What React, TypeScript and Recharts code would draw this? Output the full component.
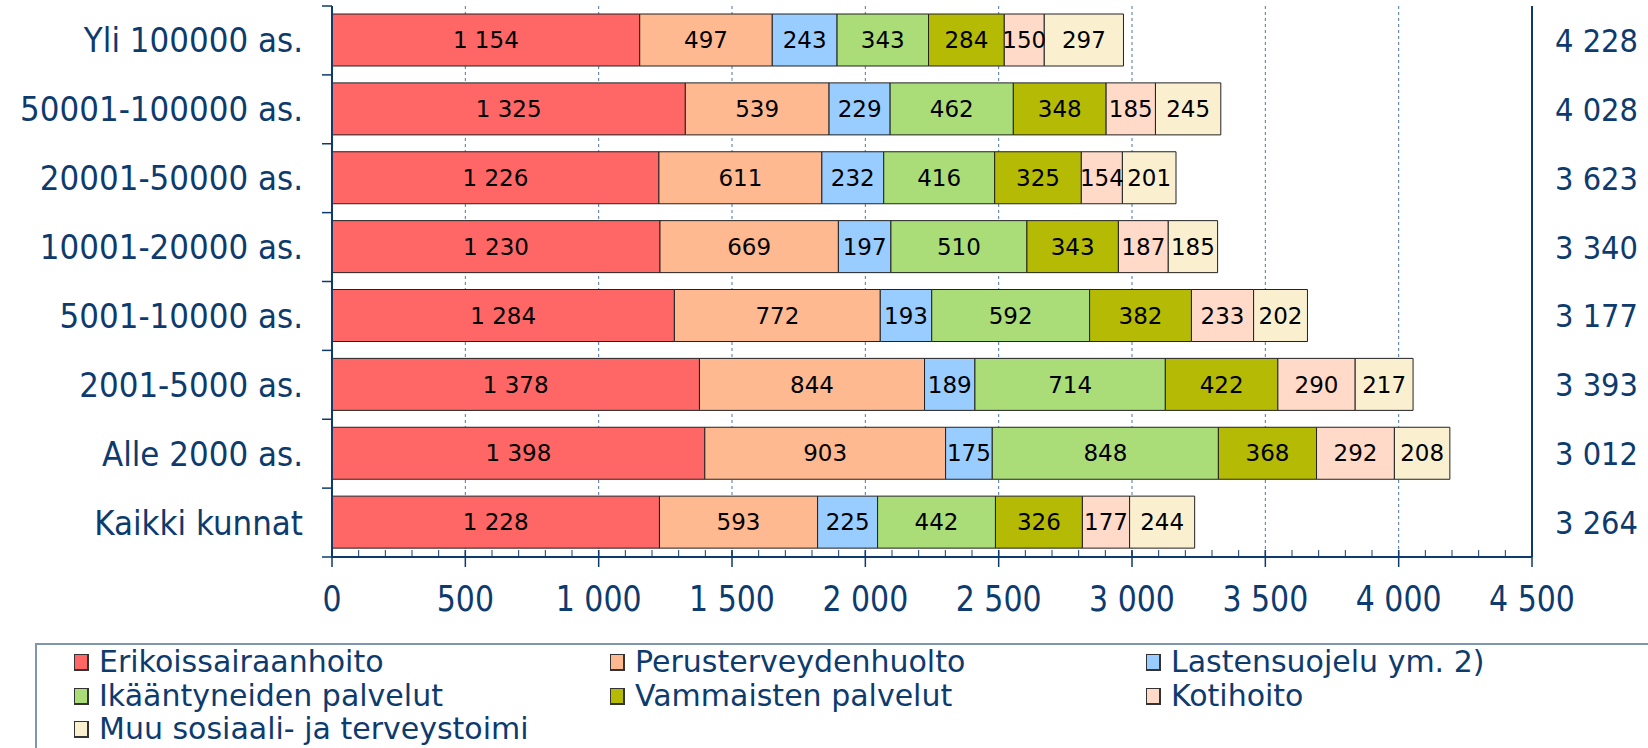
import { BarChart, Bar, XAxis, YAxis, CartesianGrid, LabelList } from "recharts"

const categories = [
  "Yli 100000 as.",
  "50001-100000 as.",
  "20001-50000 as.",
  "10001-20000 as.",
  "5001-10000 as.",
  "2001-5000 as.",
  "Alle 2000 as.",
  "Kaikki kunnat",
]

const erikoissairaanhoito = [1154, 1325, 1226, 1230, 1284, 1378, 1398, 1228]
const perusterveydenhuolto = [497, 539, 611, 669, 772, 844, 903, 593]
const lastensuojelu = [243, 229, 232, 197, 193, 189, 175, 225]
const ikaantyneet = [343, 462, 416, 510, 592, 714, 848, 442]
const vammaiset = [284, 348, 325, 343, 382, 422, 368, 326]
const kotihoito = [150, 185, 154, 187, 233, 290, 292, 177]
const muu = [297, 245, 201, 185, 202, 217, 208, 244]

// luvut oikeassa reunassa
const totals = [4228, 4028, 3623, 3340, 3177, 3393, 3012, 3264]

const majorTicks = [0, 500, 1000, 1500, 2000, 2500, 3000, 3500, 4000, 4500]
const allTicks = Array.from({ length: 46 }, (_, i) => i * 100)

const series = [
  { key: "eri", name: "Erikoissairaanhoito", color: "#ff6666", values: erikoissairaanhoito },
  { key: "per", name: "Perusterveydenhuolto", color: "#ffb991", values: perusterveydenhuolto },
  { key: "las", name: "Lastensuojelu ym. 2)", color: "#99ccff", values: lastensuojelu },
  { key: "ika", name: "Ikääntyneiden palvelut", color: "#aadd77", values: ikaantyneet },
  { key: "vam", name: "Vammaisten palvelut", color: "#b5ba05", values: vammaiset },
  { key: "kot", name: "Kotihoito", color: "#ffdac8", values: kotihoito },
  { key: "muu", name: "Muu sosiaali- ja terveystoimi", color: "#faf0d0", values: muu },
]

const data = categories.map((name, i) => {
  const row: Record<string, string | number> = { name, total: totals[i] }
  series.forEach((s) => {
    row[s.key] = s.values[i]
  })
  return row
})

const NAVY = "#0e3b6e"
const FONT = "'DejaVu Sans', Verdana, sans-serif"

const fmt = (v: number | string) => String(v).replace(/\B(?=(\d{3})+(?!\d))/g, " ")

// teksti hieman venytettynä pystysuunnassa kuten alkuperäisessä kuvassa
function TallText({
  x,
  y,
  k,
  anchor,
  size,
  children,
}: {
  x: number
  y: number
  k: number
  anchor: "start" | "middle" | "end"
  size: number
  children: any
}) {
  return (
    <text
      transform={`translate(${x},${y}) scale(1,${k})`}
      x={0}
      y={0}
      dy="0.36em"
      textAnchor={anchor}
      fontSize={size}
      fill={NAVY}
      fontFamily={FONT}
    >
      {children}
    </text>
  )
}

function XTick(props: any) {
  const { x, y, payload } = props
  const v = payload.value as number
  const major = v % 500 === 0
  return (
    <g>
      <line x1={x} x2={x} y1={y} y2={y - 7} stroke={NAVY} strokeWidth={1} />
      {major && <line x1={x} x2={x} y1={y - 7} y2={y + 10} stroke={NAVY} strokeWidth={1.5} />}
      {major && (
        <TallText x={x} y={y + 41} k={1.2} anchor="middle" size={30}>
          {fmt(v)}
        </TallText>
      )}
    </g>
  )
}

function CatTick(props: any) {
  const { x, y, payload, index, visibleTicksCount, height } = props
  const band = height && visibleTicksCount ? height / visibleTicksCount : 69
  return (
    <g>
      <line x1={x} x2={x - 10} y1={y - band / 2} y2={y - band / 2} stroke={NAVY} strokeWidth={1.5} />
      {index === visibleTicksCount - 1 && (
        <line x1={x} x2={x - 10} y1={y + band / 2} y2={y + band / 2} stroke={NAVY} strokeWidth={1.5} />
      )}
      <TallText x={x - 29} y={y} k={1.07} anchor="end" size={31}>
        {payload.value}
      </TallText>
    </g>
  )
}

function TotalTick(props: any) {
  const { x, y, index } = props
  return (
    <TallText x={x + 23} y={y} k={1.1} anchor="start" size={29}>
      {fmt(totals[index])}
    </TallText>
  )
}

function LegendBox() {
  const rows = [19, 53, 86]
  const cols = [39, 575, 1111]
  return (
    <div
      style={{
        position: "absolute",
        left: 35,
        top: 643,
        width: 1613,
        height: 105,
        borderTop: "2px solid #8095b3",
        borderLeft: "2px solid #8095b3",
        boxSizing: "border-box",
        fontFamily: FONT,
        color: NAVY,
        fontSize: 30,
        lineHeight: "32px",
      }}
    >
      {series.map((s, i) => (
        <div
          key={s.key}
          style={{
            position: "absolute",
            left: cols[i % 3] - 2,
            top: rows[Math.floor(i / 3)] - 16 - 2,
            height: 32,
            display: "flex",
            alignItems: "center",
            whiteSpace: "nowrap",
          }}
        >
          <span
            style={{
              display: "inline-block",
              width: 12,
              height: 14,
              background: s.color,
              border: "1px solid #333",
              borderRightWidth: 2,
              borderBottomWidth: 2,
              marginRight: 10,
            }}
          />
          <span style={{ lineHeight: "32px" }}>{s.name}</span>
        </div>
      ))}
    </div>
  )
}

export default function App() {
  return (
    <div
      style={{
        position: "absolute",
        left: 0,
        top: 0,
        width: 1648,
        height: 748,
        background: "#fff",
        overflow: "hidden",
        fontFamily: FONT,
      }}
    >
      <BarChart
        width={1648}
        height={620}
        data={data}
        layout="vertical"
        margin={{ top: 6, right: 0, left: 0, bottom: 0 }}
        barSize={52}
      >
        <CartesianGrid
          horizontal={false}
          verticalValues={majorTicks}
          stroke="#4f74a8"
          strokeDasharray="3 3"
          strokeWidth={1}
        />
        <XAxis
          type="number"
          domain={[0, 4500]}
          ticks={allTicks}
          interval={0}
          tickLine={false}
          tickSize={0}
          tickMargin={0}
          height={63}
          axisLine={{ stroke: NAVY, strokeWidth: 2 }}
          tick={<XTick />}
          allowDataOverflow
        />
        <XAxis
          xAxisId="top"
          orientation="top"
          type="number"
          domain={[0, 4500]}
          height={0}
          tick={false}
          tickLine={false}
          axisLine={{ stroke: NAVY, strokeWidth: 2 }}
          allowDataOverflow
        />
        <YAxis
          type="category"
          dataKey="name"
          width={332}
          interval={0}
          tickLine={false}
          tickSize={0}
          tickMargin={0}
          axisLine={{ stroke: NAVY, strokeWidth: 2 }}
          tick={<CatTick />}
        />
        <YAxis
          yAxisId="right"
          orientation="right"
          type="category"
          dataKey="name"
          width={116}
          interval={0}
          tickLine={false}
          tickSize={0}
          tickMargin={0}
          axisLine={{ stroke: NAVY, strokeWidth: 2 }}
          tick={<TotalTick />}
        />
        {series.map((s) => (
          <Bar
            key={s.key}
            dataKey={s.key}
            name={s.name}
            stackId="a"
            fill={s.color}
            stroke="#222"
            strokeWidth={1}
            isAnimationActive={false}
          >
            <LabelList
              dataKey={s.key}
              position="center"
              formatter={(v: any) => fmt(v)}
              fill="#000"
              fontSize={23}
              fontFamily={FONT}
            />
          </Bar>
        ))}
      </BarChart>
      <LegendBox />
    </div>
  )
}
